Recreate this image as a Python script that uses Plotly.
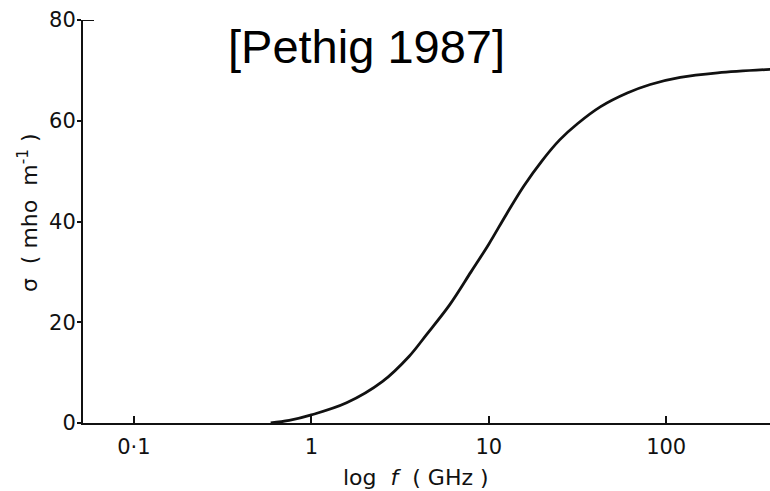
import plotly.graph_objects as go

# Data (frequency in GHz, conductivity in mho m^-1)
freq_ghz = [0.59, 0.75, 1.0, 1.58, 2.51, 3.55, 4.47, 6.03, 7.94, 10.0, 12.6, 15.8,
            20.0, 25.1, 31.6, 42.7, 60.3, 81.3, 120.0, 195.0, 385.0]
sigma = [0.0, 0.5, 1.6, 4.0, 8.2, 13.2, 17.6, 23.5, 30.0, 35.5, 41.5, 47.1,
         52.1, 56.2, 59.4, 62.8, 65.5, 67.2, 68.6, 69.5, 70.2]

x_tickvals = [0.1, 1, 10, 100]
x_ticktext = ["0·1", "1", "10", "100"]
y_tickvals = [0, 20, 40, 60, 80]
y_ticktext = ["0", "20", "40", "60", "80"]

title_text = "[Pethig 1987]"
x_title = "log  <i>f</i>  ( GHz )"
y_title = "σ  ( mho  m<sup>-1</sup> )"

ink = "#111111"
font_fig = "DejaVu Sans"

fig = go.Figure()
fig.add_trace(go.Scatter(
    x=freq_ghz, y=sigma, mode="lines",
    line=dict(color=ink, width=2.8, shape="spline", smoothing=1.0),
    showlegend=False, hoverinfo="skip",
))

fig.update_layout(
    width=770, height=491,
    margin=dict(l=83, r=0, t=20, b=68),
    paper_bgcolor="white", plot_bgcolor="white",
    font=dict(family=font_fig, color=ink),
    xaxis=dict(
        type="log", range=[-1.287, 2.585],
        tickvals=x_tickvals, ticktext=x_ticktext,
        ticks="inside", ticklen=7, tickwidth=2, tickcolor=ink,
        ticklabelstandoff=4,
        showline=True, linecolor=ink, linewidth=2,
        showgrid=False, zeroline=False,
        tickfont=dict(size=21, family=font_fig, color=ink),
    ),
    yaxis=dict(
        range=[0, 80],
        tickvals=y_tickvals, ticktext=y_ticktext,
        ticks="outside", ticklen=4, tickwidth=2, tickcolor=ink,
        ticklabelstandoff=-3,
        showline=True, linecolor=ink, linewidth=2,
        showgrid=False, zeroline=False,
        tickfont=dict(size=21, family=font_fig, color=ink),
    ),
    annotations=[
        dict(text=title_text, xref="paper", yref="paper",
             x=0.412, y=0.935, xanchor="center", yanchor="middle",
             showarrow=False,
             font=dict(size=47, family="Liberation Sans", color="black")),
        dict(text=x_title, xref="paper", yref="paper",
             x=0.485, y=-0.136, xanchor="center", yanchor="middle",
             showarrow=False,
             font=dict(size=22, family=font_fig, color=ink)),
        dict(text=y_title, xref="paper", yref="paper",
             x=-0.080, y=0.521, xanchor="center", yanchor="middle",
             textangle=-90, showarrow=False,
             font=dict(size=22, family=font_fig, color=ink)),
    ],
    shapes=[dict(
        type="line", xref="x domain", yref="y",
        x0=0, x1=0.016, y0=80, y1=80,
        line=dict(color=ink, width=2),
    )],
)

fig.write_html("out.html")
